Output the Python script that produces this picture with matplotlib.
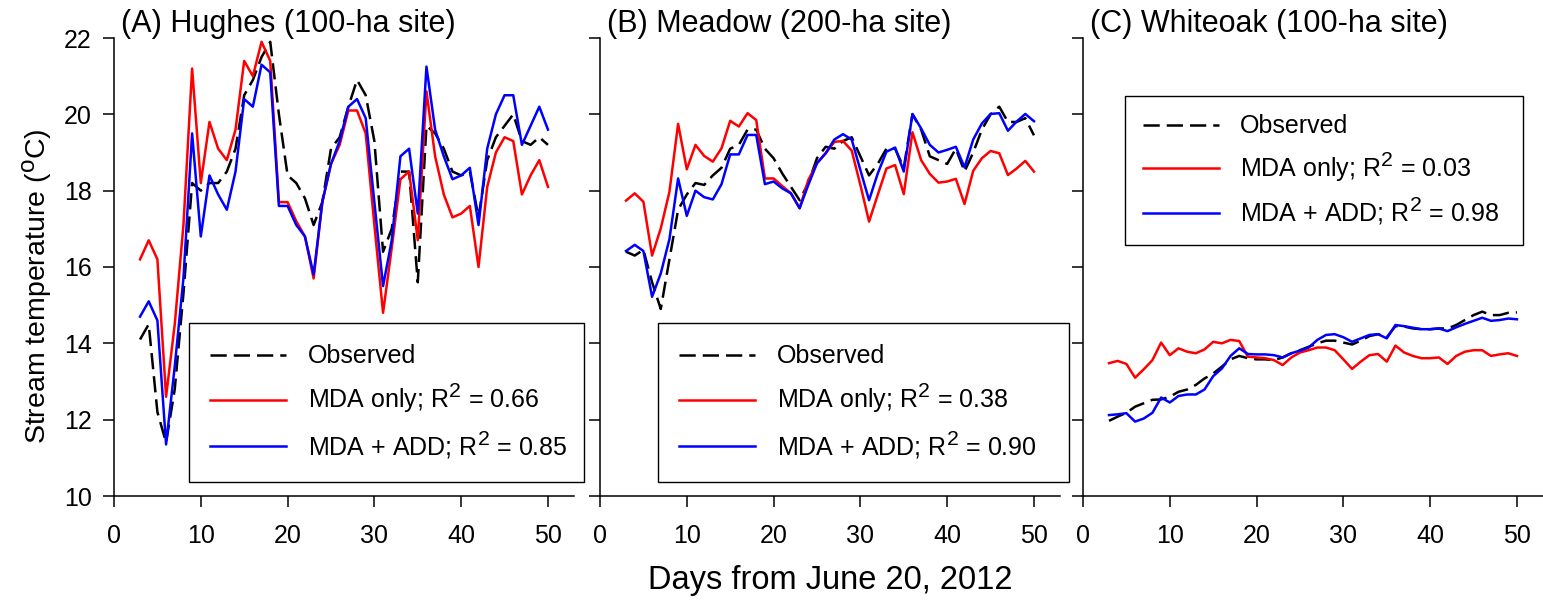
import numpy as np
import matplotlib
matplotlib.use("Agg")
import matplotlib.pyplot as plt
import matplotlib._mathtext as mathtext_internals

plt.rcParams['font.family'] = ['Liberation Sans', 'DejaVu Sans']
plt.rcParams['mathtext.fontset'] = 'custom'
plt.rcParams['mathtext.rm'] = 'Liberation Sans'
plt.rcParams['mathtext.it'] = 'Liberation Sans:italic'
# bigger superscripts (R^2, degree "o")
mathtext_internals.SHRINK_FACTOR = 0.85

days = list(range(3, 51))

# (A) Hughes
hughes_obs = [14.1, 14.5, 12.2, 11.4, 12.8, 15.3, 18.2, 18.0, 18.2, 18.2, 18.5, 19.1,
              20.5, 20.9, 21.5, 21.9, 20.0, 18.4, 18.2, 17.8, 17.1, 17.7, 19.1, 19.4,
              20.2, 20.9, 20.5, 19.3, 16.4, 17.0, 18.5, 18.5, 15.6, 19.7, 19.5, 19.1,
              18.5, 18.4, 18.5, 17.3, 18.8, 19.4, 19.7, 20.0, 19.3, 19.2, 19.4, 19.2]
hughes_mda = [16.2, 16.7, 16.2, 12.6, 14.5, 17.1, 21.2, 18.2, 19.8, 19.1, 18.8, 19.6,
              21.4, 21.0, 21.9, 21.4, 17.7, 17.7, 17.2, 16.8, 15.7, 17.7, 18.7, 19.2,
              20.1, 20.1, 19.5, 17.1, 14.8, 16.5, 18.3, 18.5, 16.7, 20.6, 18.9, 17.9,
              17.3, 17.4, 17.6, 16.0, 18.1, 19.0, 19.4, 19.3, 17.9, 18.4, 18.8, 18.1]
hughes_add = [14.7, 15.1, 14.6, 11.35, 13.4, 15.7, 19.5, 16.8, 18.4, 17.9, 17.5, 18.5,
              20.4, 20.2, 21.3, 21.1, 17.6, 17.6, 17.1, 16.8, 15.8, 17.7, 18.7, 19.3,
              20.2, 20.4, 19.9, 17.7, 15.5, 16.7, 18.9, 19.1, 17.4, 21.25, 19.6, 18.9,
              18.3, 18.4, 18.6, 17.1, 19.1, 20.0, 20.5, 20.5, 19.2, 19.7, 20.2, 19.6]

# (B) Meadow
meadow_obs = [16.4, 16.3, 16.45, 15.6, 14.9, 16.2, 17.5, 17.9, 18.2, 18.15, 18.4, 18.6,
              19.1, 19.2, 19.6, 19.6, 19.1, 18.85, 18.45, 18.1, 17.75, 18.2, 18.85, 19.15,
              19.1, 19.3, 19.4, 18.9, 18.4, 18.7, 19.1, 19.1, 18.6, 20.0, 19.6, 18.9,
              18.8, 18.7, 19.1, 18.5, 19.0, 19.6, 20.0, 20.2, 19.8, 19.8, 19.9, 19.45]
meadow_mda = [17.74, 17.93, 17.71, 16.30, 17.01, 17.97, 19.75, 18.56, 19.20, 18.91, 18.76, 19.11,
              19.83, 19.68, 20.03, 19.85, 18.32, 18.32, 18.12, 17.93, 17.54, 18.28, 18.72, 18.98,
              19.28, 19.30, 19.05, 18.15, 17.19, 17.89, 18.58, 18.67, 17.91, 19.53, 18.80, 18.44,
              18.21, 18.24, 18.31, 17.65, 18.52, 18.85, 19.04, 18.98, 18.41, 18.58, 18.78, 18.50]
meadow_add = [16.42, 16.58, 16.42, 15.22, 15.83, 16.73, 18.32, 17.34, 18.00, 17.83, 17.77, 18.17,
              18.95, 18.95, 19.46, 19.46, 18.17, 18.24, 18.06, 17.93, 17.54, 18.15, 18.72, 18.98,
              19.34, 19.48, 19.34, 18.54, 17.75, 18.45, 19.02, 19.13, 18.50, 20.01, 19.63, 19.20,
              19.00, 19.07, 19.15, 18.61, 19.34, 19.76, 20.01, 20.03, 19.57, 19.81, 20.01, 19.82]

# (C) Whiteoak
whiteoak_obs = [11.97, 12.08, 12.18, 12.34, 12.43, 12.52, 12.53, 12.60, 12.73, 12.79, 12.91, 13.08,
                13.21, 13.39, 13.58, 13.67, 13.61, 13.58, 13.58, 13.56, 13.63, 13.74, 13.82, 13.91,
                14.00, 14.07, 14.07, 14.02, 13.97, 14.07, 14.19, 14.24, 14.16, 14.45, 14.44, 14.39,
                14.37, 14.37, 14.39, 14.39, 14.48, 14.61, 14.74, 14.83, 14.74, 14.74, 14.80, 14.81]
whiteoak_mda = [13.48, 13.54, 13.46, 13.10, 13.32, 13.56, 14.02, 13.69, 13.87, 13.78, 13.74, 13.84,
                14.04, 14.00, 14.09, 14.06, 13.65, 13.63, 13.61, 13.56, 13.43, 13.63, 13.76, 13.82,
                13.89, 13.89, 13.82, 13.58, 13.33, 13.52, 13.69, 13.72, 13.52, 13.94, 13.76, 13.67,
                13.61, 13.61, 13.63, 13.46, 13.67, 13.78, 13.82, 13.82, 13.67, 13.71, 13.74, 13.67]
whiteoak_add = [12.12, 12.14, 12.17, 11.95, 12.03, 12.18, 12.58, 12.45, 12.62, 12.66, 12.66, 12.79,
                13.14, 13.34, 13.67, 13.87, 13.72, 13.71, 13.71, 13.69, 13.63, 13.74, 13.81, 13.89,
                14.09, 14.22, 14.24, 14.16, 14.04, 14.13, 14.22, 14.24, 14.13, 14.48, 14.45, 14.41,
                14.37, 14.37, 14.39, 14.32, 14.42, 14.51, 14.59, 14.67, 14.59, 14.61, 14.65, 14.63]

titles = ['(A) Hughes (100-ha site)', '(B) Meadow (200-ha site)', '(C) Whiteoak (100-ha site)']
r2_mda = ['0.66', '0.38', '0.03']
r2_add = ['0.85', '0.90', '0.98']
series = [(hughes_obs, hughes_mda, hughes_add),
          (meadow_obs, meadow_mda, meadow_add),
          (whiteoak_obs, whiteoak_mda, whiteoak_add)]

W, H = 1543, 604
fig = plt.figure(figsize=(W / 100, H / 100), dpi=100)

lefts = [114, 600, 1083]
ax_w, ax_h, ax_bottom = 460, 458, 108
# legend placement in axes fractions: x0, y0, width, borderpad, labelspacing
legend_boxes = [(0.163, 0.031, 0.859, 0.85, 0.52),
                (0.126, 0.031, 0.894, 0.85, 0.52),
                (0.091, 0.548, 0.866, 0.72, 0.45)]

for i in range(3):
    ax = fig.add_axes([lefts[i] / W, ax_bottom / H, ax_w / W, ax_h / H])
    obs, mda, add = series[i]
    ax.plot(days, obs, color='black', lw=1.8, dashes=(6.5, 2.8), label='Observed')
    ax.plot(days, mda, color='#ff0000', lw=1.8, label='MDA only; R$^2$ = ' + r2_mda[i])
    ax.plot(days, add, color='#0000ff', lw=1.8, label='MDA + ADD; R$^2$ = ' + r2_add[i])

    ax.set_xlim(0, 53)
    ax.set_ylim(10, 22)
    ax.set_xticks(range(0, 51, 10))
    ax.set_yticks(range(10, 23, 2))
    ax.spines['top'].set_visible(False)
    ax.spines['right'].set_visible(False)
    for s in ('left', 'bottom'):
        ax.spines[s].set_linewidth(1.1)
    ax.tick_params(direction='out', length=8, width=1.1, labelsize=18)
    ax.tick_params(axis='x', pad=12)
    ax.tick_params(axis='y', pad=8)
    if i > 0:
        ax.set_yticklabels([])

    ax.text(0.015, 1.0 + 6 / ax_h, titles[i], transform=ax.transAxes,
            fontsize=22, ha='left', va='baseline')

    x0, y0, w, bpad, lspace = legend_boxes[i]
    leg = ax.legend(loc='lower left', bbox_to_anchor=(x0, y0, w, 0.5), mode='expand',
                    fontsize=18, handlelength=3.05, handletextpad=0.85,
                    labelspacing=lspace, borderpad=bpad, borderaxespad=0,
                    fancybox=False, framealpha=1, edgecolor='black')
    leg.get_frame().set_linewidth(1.0)

    if i == 0:
        ax.set_ylabel(r'Stream temperature ($\mathregular{^o}$C)', fontsize=20.5)
        ax.yaxis.set_label_coords(-0.13, 0.458)

fig.text(0.538, 1 - 580 / H, 'Days from June 20, 2012', fontsize=23.5, ha='center', va='center')

fig.savefig('out.png', dpi=100)
